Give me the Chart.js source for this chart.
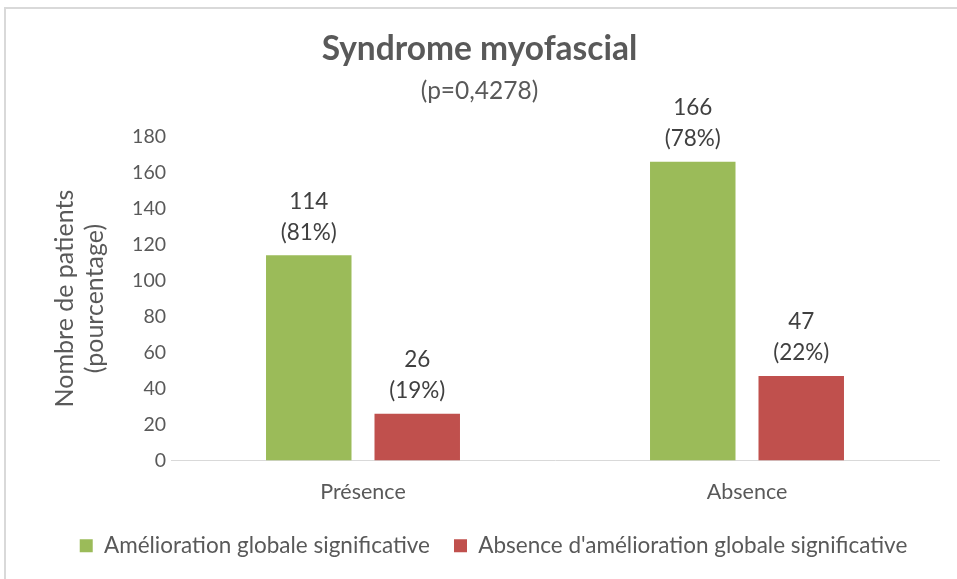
<!DOCTYPE html>
<html>
<head>
<meta charset="utf-8">
<script src="https://cdn.jsdelivr.net/npm/chart.js@4/dist/chart.umd.min.js"></script>
<style>
  html, body { margin: 0; padding: 0; background: #ffffff; }
  #frame { position: absolute; left: 4px; top: 7px; width: 953px; height: 572px;
           border-top: 2px solid #d9d9d9; border-left: 2px solid #d9d9d9; box-sizing: border-box; }
  #wrap { position: absolute; left: 0; top: 0; width: 957px; height: 579px; }
</style>
</head>
<body>
<div id="frame"></div>
<div id="wrap"><canvas id="c" width="957" height="579"></canvas></div>
<script>
const categories = ["Présence", "Absence"];
const seriesNames = ["Amélioration globale significative", "Absence d'amélioration globale significative"];
const improvementCounts = [114, 166];
const noImprovementCounts = [26, 47];
const improvementPercents = ["81%", "78%"];
const noImprovementPercents = ["19%", "22%"];
const yTicks = [0, 20, 40, 60, 80, 100, 120, 140, 160, 180];

const FONT = "Lato, 'Open Sans', sans-serif";
const TEXT = "#595959";

const percentLabels = [improvementPercents, noImprovementPercents];

const dataLabelPlugin = {
  id: 'dataLabels',
  afterDatasetsDraw(chart) {
    const ctx = chart.ctx;
    ctx.save();
    ctx.font = "22.5px " + FONT;
    ctx.fillStyle = "#404040";
    ctx.textAlign = "center";
    ctx.textBaseline = "middle";
    chart.data.datasets.forEach((ds, di) => {
      const meta = chart.getDatasetMeta(di);
      meta.data.forEach((bar, i) => {
        const x = bar.x;
        const top = bar.y;
        ctx.fillText("(" + percentLabels[di][i] + ")", x, top - 23);
        ctx.fillText(String(ds.data[i]), x, top - 54);
      });
    });
    ctx.restore();
  }
};

// shift the legend slightly right, as in the reference layout
const legendShift = {
  id: 'legendShift',
  afterLayout(chart) {
    if (chart.legend) { chart.legend.left += 14; chart.legend.right += 14; }
  }
};

new Chart(document.getElementById('c'), {
  type: 'bar',
  data: {
    labels: categories,
    datasets: [
      { label: seriesNames[0], data: improvementCounts, backgroundColor: "#9BBB59",
        categoryPercentage: 0.565, barPercentage: 0.788 },
      { label: seriesNames[1], data: noImprovementCounts, backgroundColor: "#C0504D",
        categoryPercentage: 0.565, barPercentage: 0.788 }
    ]
  },
  options: {
    responsive: false,
    animation: false,
    events: [],
    layout: { padding: { left: 20, right: 18, top: 0, bottom: 12 } },
    plugins: {
      title: {
        display: true,
        text: "Syndrome myofascial",
        color: TEXT,
        font: { family: FONT, size: 33.5, weight: 'bold', lineHeight: 1.2 },
        padding: { top: 29, bottom: 4 }
      },
      subtitle: {
        display: true,
        text: "(p=0,4278)",
        color: TEXT,
        font: { family: FONT, size: 24.5, lineHeight: 1.2 },
        padding: { top: 3, bottom: 31 }
      },
      legend: {
        display: true,
        position: 'bottom',
        labels: {
          color: TEXT,
          font: { family: FONT, size: 22.5 },
          boxWidth: 13,
          boxHeight: 13,
          padding: 24
        }
      },
      tooltip: { enabled: false }
    },
    scales: {
      x: {
        grid: { display: false, drawTicks: false },
        border: { display: true, color: "#d9d9d9", width: 1 },
        ticks: { color: TEXT, font: { family: FONT, size: 21.5 }, padding: 19 },
        afterFit(scale) { scale.height = 50; }
      },
      y: {
        min: 0,
        max: 180,
        afterBuildTicks(scale) { scale.ticks = yTicks.map(v => ({ value: v })); },
        grid: { display: false, drawTicks: false },
        border: { display: false },
        ticks: { color: TEXT, font: { family: FONT, size: 19.5 }, padding: 5 },
        title: {
          display: true,
          text: ["Nombre de patients", "(pourcentage)"],
          color: TEXT,
          font: { family: FONT, size: 25, lineHeight: 1.2 },
          padding: { top: 30, bottom: 0 }
        },
        afterFit(scale) { scale.width = 151; }
      }
    }
  },
  plugins: [dataLabelPlugin, legendShift]
});
</script>
</body>
</html>
